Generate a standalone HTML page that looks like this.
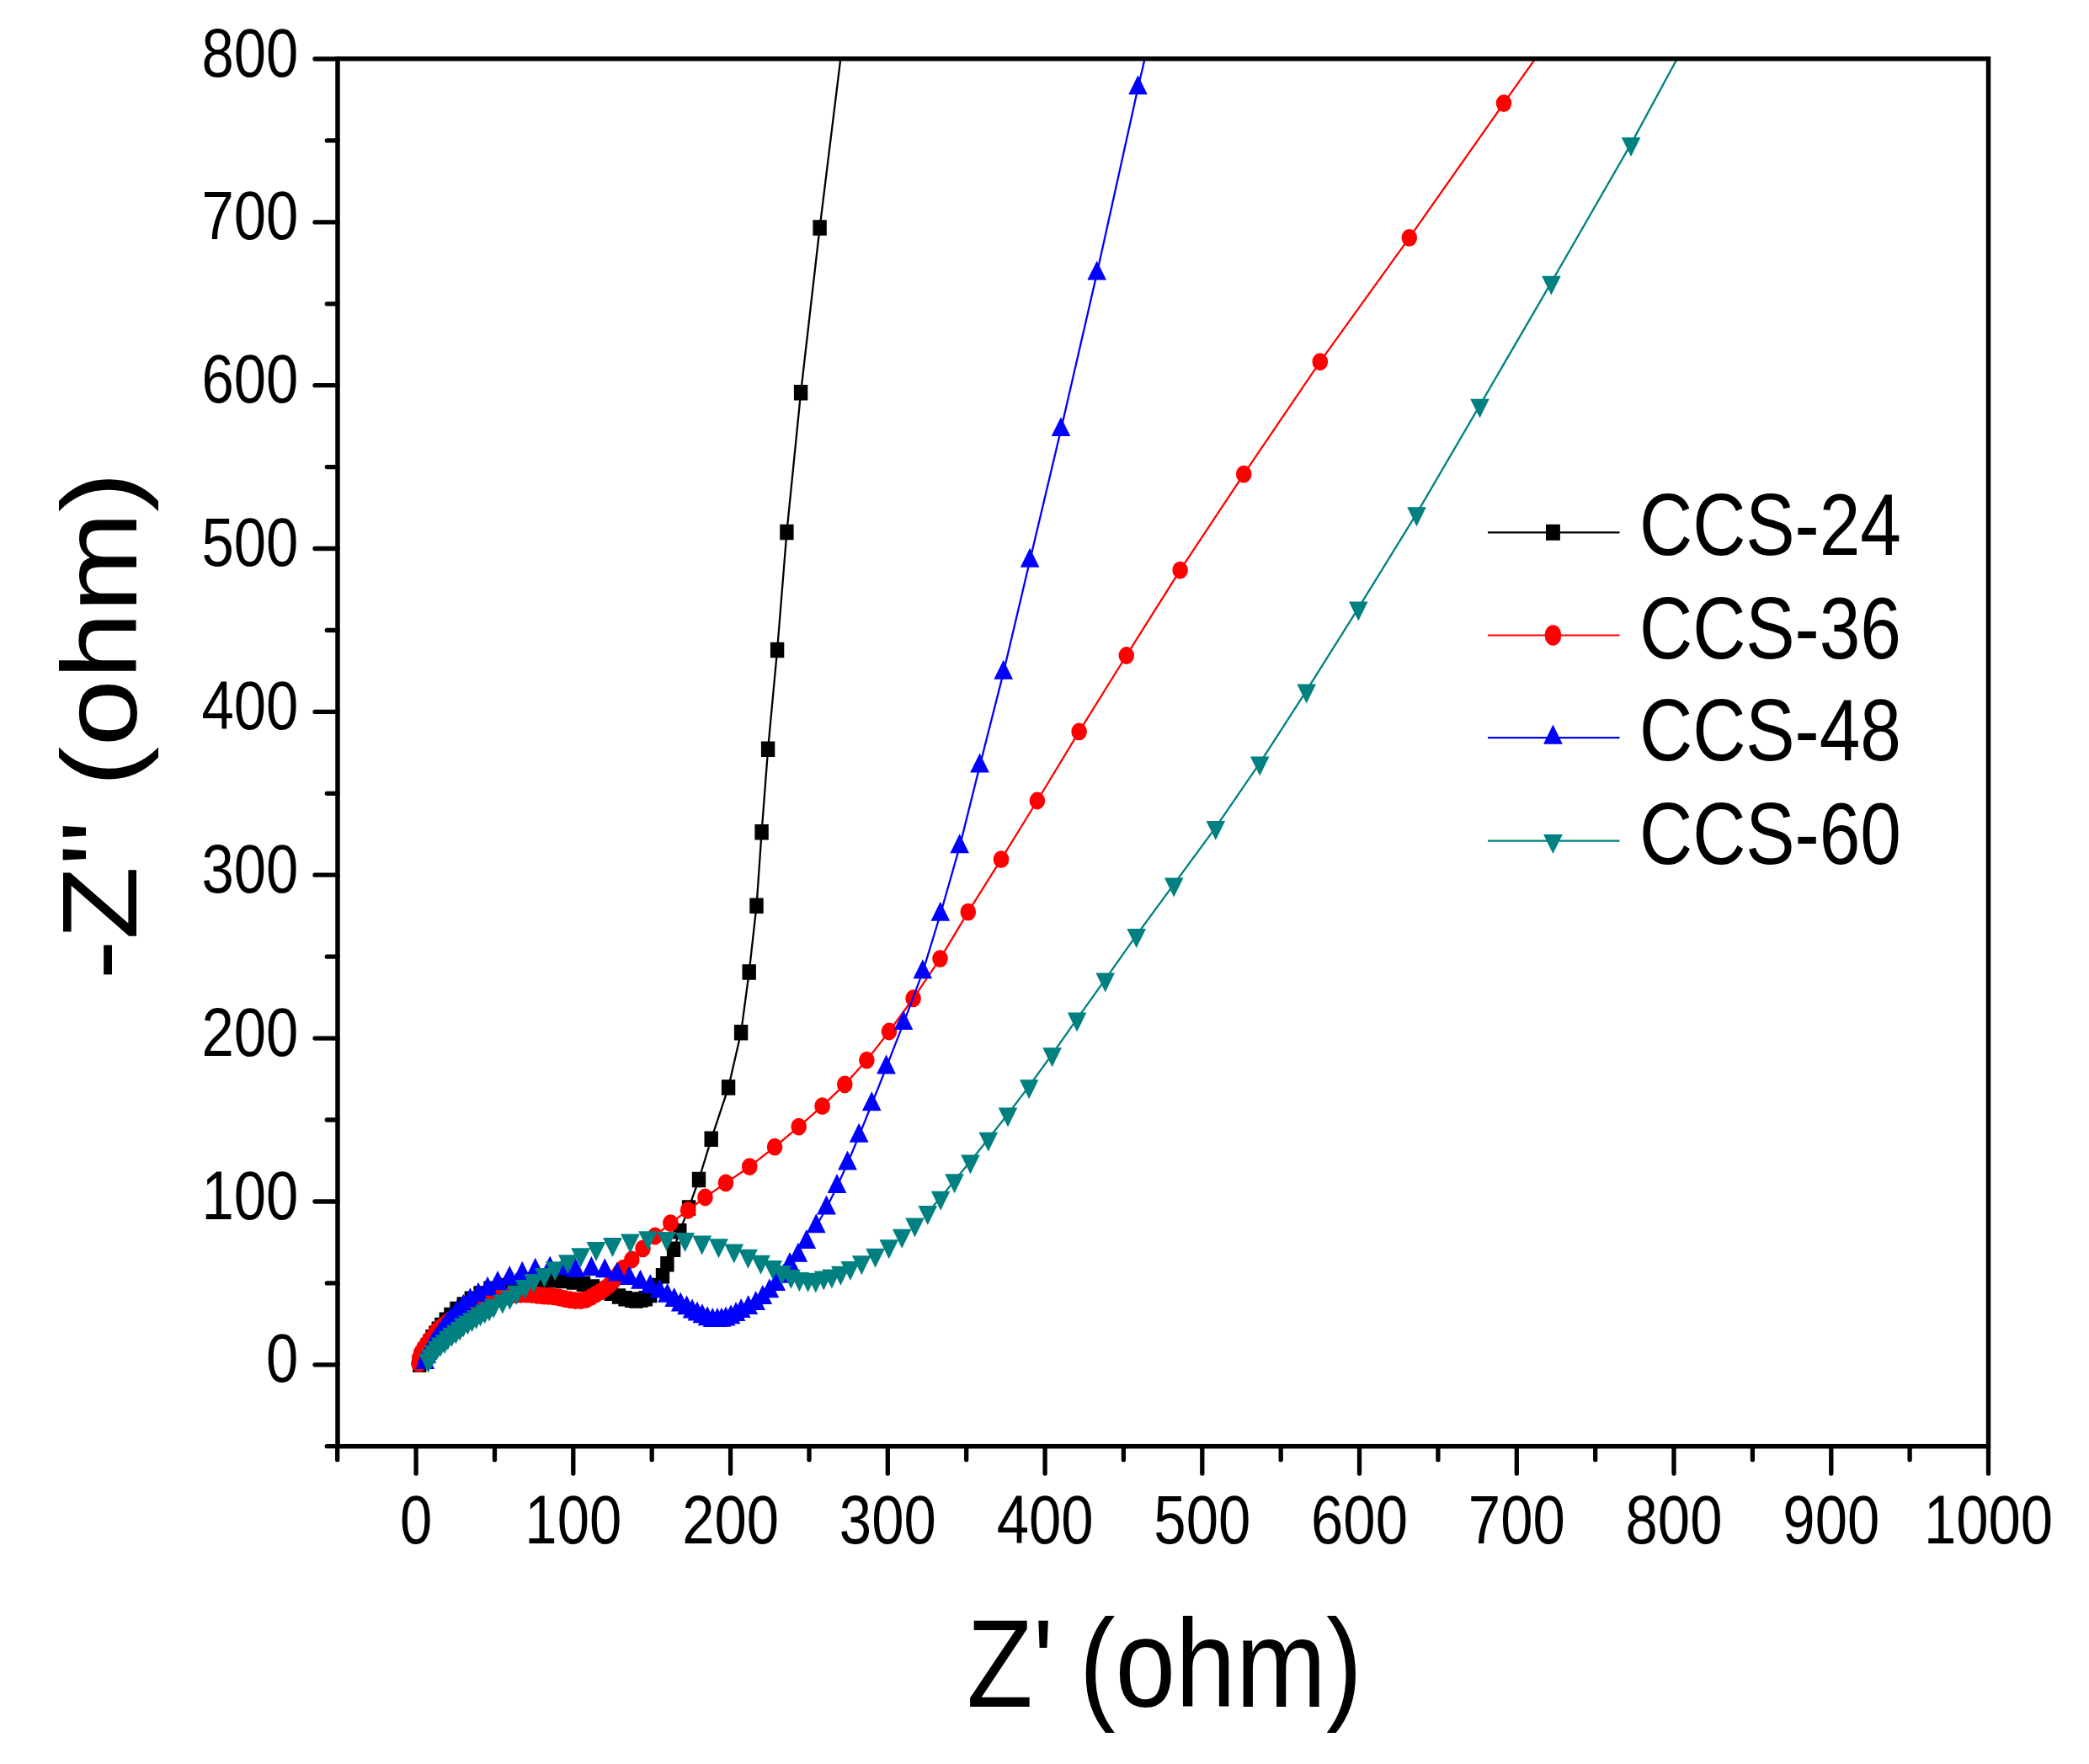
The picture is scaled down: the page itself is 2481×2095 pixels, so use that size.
<!DOCTYPE html><html><head><meta charset="utf-8"><title>Nyquist plot</title><style>html,body{margin:0;padding:0;background:#fff;}svg{display:block;}</style></head><body>
<svg width="2481" height="2095" viewBox="0 0 2481 2095">
<rect width="2481" height="2095" fill="#fff"/>
<defs><clipPath id="clip"><rect x="401" y="69.8" width="1960.5" height="1647.9"/></clipPath></defs>
<path d="M792.4 1501.3L800.1 1483.7M800.1 1483.7L807.3 1462.3M807.3 1462.3L818.1 1434.4M818.1 1434.4L830 1401M830 1401L844.7 1352.8M844.7 1352.8L865.1 1291.6M865.1 1291.6L880.1 1226.2M880.1 1226.2L889.7 1154.5M889.7 1154.5L898.5 1075.8M898.5 1075.8L904.6 988.4M904.6 988.4L912.1 889.8M912.1 889.8L923.1 772M923.1 772L934.4 632M934.4 632L951.1 466.2M951.1 466.2L973.6 270.5M973.6 270.5L1000.5 52" fill="none" stroke="#000000" stroke-width="2.3" clip-path="url(#clip)"/>
<path d="M490 1611.2h16.4v18.5h-16.4zM491.3 1605.4h16.4v18.5h-16.4zM493.1 1599.7h16.4v18.5h-16.4zM496.1 1594.5h16.4v18.5h-16.4zM499.4 1589.5h16.4v18.5h-16.4zM502.4 1584.3h16.4v18.5h-16.4zM505.4 1579.1h16.4v18.5h-16.4zM509.3 1574.5h16.4v18.5h-16.4zM512.6 1569.5h16.4v18.5h-16.4zM516.2 1564.7h16.4v18.5h-16.4zM521.6 1558.5h16.4v18.5h-16.4zM527.3 1552.7h16.4v18.5h-16.4zM534.3 1545.7h16.4v18.5h-16.4zM542.6 1540.2h16.4v18.5h-16.4zM551.6 1533.5h16.4v18.5h-16.4zM562.4 1527.3h16.4v18.5h-16.4zM574.3 1521.5h16.4v18.5h-16.4zM586.3 1517.8h16.4v18.5h-16.4zM598.8 1514.8h16.4v18.5h-16.4zM611.8 1512.5h16.4v18.5h-16.4zM623.8 1511.2h16.4v18.5h-16.4zM636.8 1510.8h16.4v18.5h-16.4zM648.8 1511h16.4v18.5h-16.4zM660.8 1511.8h16.4v18.5h-16.4zM672.8 1513.2h16.4v18.5h-16.4zM684.8 1515.5h16.4v18.5h-16.4zM695.8 1519.2h16.4v18.5h-16.4zM706.8 1522.8h16.4v18.5h-16.4zM717.6 1526.5h16.4v18.5h-16.4zM726.8 1530.3h16.4v18.5h-16.4zM734.4 1533h16.4v18.5h-16.4zM742.1 1534.5h16.4v18.5h-16.4zM747.4 1535.2h16.4v18.5h-16.4zM753.3 1534.2h16.4v18.5h-16.4zM758.6 1533h16.4v18.5h-16.4zM764 1528.8h16.4v18.5h-16.4zM770.8 1517.8h16.4v18.5h-16.4zM778.8 1506h16.4v18.5h-16.4zM784.2 1492h16.4v18.5h-16.4zM791.9 1474.5h16.4v18.5h-16.4zM799.1 1453h16.4v18.5h-16.4zM809.9 1425.2h16.4v18.5h-16.4zM821.8 1391.8h16.4v18.5h-16.4zM836.5 1343.5h16.4v18.5h-16.4zM856.9 1282.3h16.4v18.5h-16.4zM871.9 1217h16.4v18.5h-16.4zM881.5 1145.2h16.4v18.5h-16.4zM890.3 1066.5h16.4v18.5h-16.4zM896.4 979.1h16.4v18.5h-16.4zM903.9 880.5h16.4v18.5h-16.4zM914.9 762.8h16.4v18.5h-16.4zM926.2 622.8h16.4v18.5h-16.4zM942.9 456.9h16.4v18.5h-16.4zM965.4 261.2h16.4v18.5h-16.4z" fill="#000000"/>

<path d="M778 1468L796.4 1452.7M796.4 1452.7L817.1 1437.4M817.1 1437.4L837.5 1422M837.5 1422L862 1404.9M862 1404.9L890.2 1385.7M890.2 1385.7L920.1 1362.2M920.1 1362.2L948.7 1338.1M948.7 1338.1L976.6 1313.7M976.6 1313.7L1003.3 1287.9M1003.3 1287.9L1029.4 1259.1M1029.4 1259.1L1056 1225M1056 1225L1084.6 1185.8M1084.6 1185.8L1116.5 1138.6M1116.5 1138.6L1149.8 1083.2M1149.8 1083.2L1189 1020.6M1189 1020.6L1231.9 951M1231.9 951L1281.6 868.8M1281.6 868.8L1337.8 778.5M1337.8 778.5L1401.6 677.1M1401.6 677.1L1477.2 563.1M1477.2 563.1L1567.8 429.7M1567.8 429.7L1673.8 282.3M1673.8 282.3L1786 122.6M1786 122.6L1850 32" fill="none" stroke="#ff0000" stroke-width="2.3" clip-path="url(#clip)"/>
<path d="M488 1619.3a9.3 10.4 0 1 0 18.6 0a9.3 10.4 0 1 0 -18.6 0zM488.9 1612.9a9.3 10.4 0 1 0 18.6 0a9.3 10.4 0 1 0 -18.6 0zM491 1606.7a9.3 10.4 0 1 0 18.6 0a9.3 10.4 0 1 0 -18.6 0zM494.1 1601a9.3 10.4 0 1 0 18.6 0a9.3 10.4 0 1 0 -18.6 0zM498 1595.8a9.3 10.4 0 1 0 18.6 0a9.3 10.4 0 1 0 -18.6 0zM501.8 1590.6a9.3 10.4 0 1 0 18.6 0a9.3 10.4 0 1 0 -18.6 0zM505.9 1585.5a9.3 10.4 0 1 0 18.6 0a9.3 10.4 0 1 0 -18.6 0zM509.8 1580.3a9.3 10.4 0 1 0 18.6 0a9.3 10.4 0 1 0 -18.6 0zM514.6 1575.9a9.3 10.4 0 1 0 18.6 0a9.3 10.4 0 1 0 -18.6 0zM519.9 1572.3a9.3 10.4 0 1 0 18.6 0a9.3 10.4 0 1 0 -18.6 0zM524.8 1568a9.3 10.4 0 1 0 18.6 0a9.3 10.4 0 1 0 -18.6 0zM530.4 1564.7a9.3 10.4 0 1 0 18.6 0a9.3 10.4 0 1 0 -18.6 0zM536.3 1561.9a9.3 10.4 0 1 0 18.6 0a9.3 10.4 0 1 0 -18.6 0zM542.3 1559.6a9.3 10.4 0 1 0 18.6 0a9.3 10.4 0 1 0 -18.6 0zM548.2 1556.8a9.3 10.4 0 1 0 18.6 0a9.3 10.4 0 1 0 -18.6 0zM554 1553.8a9.3 10.4 0 1 0 18.6 0a9.3 10.4 0 1 0 -18.6 0zM560 1551.3a9.3 10.4 0 1 0 18.6 0a9.3 10.4 0 1 0 -18.6 0zM566 1548.8a9.3 10.4 0 1 0 18.6 0a9.3 10.4 0 1 0 -18.6 0zM571.9 1546.1a9.3 10.4 0 1 0 18.6 0a9.3 10.4 0 1 0 -18.6 0zM577.8 1543.5a9.3 10.4 0 1 0 18.6 0a9.3 10.4 0 1 0 -18.6 0zM584 1541.5a9.3 10.4 0 1 0 18.6 0a9.3 10.4 0 1 0 -18.6 0zM590.4 1540a9.3 10.4 0 1 0 18.6 0a9.3 10.4 0 1 0 -18.6 0zM596.7 1538.7a9.3 10.4 0 1 0 18.6 0a9.3 10.4 0 1 0 -18.6 0zM603.1 1537.6a9.3 10.4 0 1 0 18.6 0a9.3 10.4 0 1 0 -18.6 0zM609.6 1537.1a9.3 10.4 0 1 0 18.6 0a9.3 10.4 0 1 0 -18.6 0zM616.1 1537a9.3 10.4 0 1 0 18.6 0a9.3 10.4 0 1 0 -18.6 0zM622.6 1537.5a9.3 10.4 0 1 0 18.6 0a9.3 10.4 0 1 0 -18.6 0zM629 1538.3a9.3 10.4 0 1 0 18.6 0a9.3 10.4 0 1 0 -18.6 0zM635.5 1538.9a9.3 10.4 0 1 0 18.6 0a9.3 10.4 0 1 0 -18.6 0zM642 1539.3a9.3 10.4 0 1 0 18.6 0a9.3 10.4 0 1 0 -18.6 0zM648.5 1539.8a9.3 10.4 0 1 0 18.6 0a9.3 10.4 0 1 0 -18.6 0zM654.9 1541a9.3 10.4 0 1 0 18.6 0a9.3 10.4 0 1 0 -18.6 0zM661.2 1542.5a9.3 10.4 0 1 0 18.6 0a9.3 10.4 0 1 0 -18.6 0zM667.6 1543.7a9.3 10.4 0 1 0 18.6 0a9.3 10.4 0 1 0 -18.6 0zM674 1544.7a9.3 10.4 0 1 0 18.6 0a9.3 10.4 0 1 0 -18.6 0zM680.5 1544.6a9.3 10.4 0 1 0 18.6 0a9.3 10.4 0 1 0 -18.6 0zM686.8 1543.3a9.3 10.4 0 1 0 18.6 0a9.3 10.4 0 1 0 -18.6 0zM692.7 1540.5a9.3 10.4 0 1 0 18.6 0a9.3 10.4 0 1 0 -18.6 0zM698.2 1537.1a9.3 10.4 0 1 0 18.6 0a9.3 10.4 0 1 0 -18.6 0zM703.9 1533.8a9.3 10.4 0 1 0 18.6 0a9.3 10.4 0 1 0 -18.6 0zM709.3 1530.2a9.3 10.4 0 1 0 18.6 0a9.3 10.4 0 1 0 -18.6 0zM714.4 1526.2a9.3 10.4 0 1 0 18.6 0a9.3 10.4 0 1 0 -18.6 0zM718.7 1521.4a9.3 10.4 0 1 0 18.6 0a9.3 10.4 0 1 0 -18.6 0zM722.6 1516.2a9.3 10.4 0 1 0 18.6 0a9.3 10.4 0 1 0 -18.6 0zM726.8 1511.2a9.3 10.4 0 1 0 18.6 0a9.3 10.4 0 1 0 -18.6 0zM731 1506.3a9.3 10.4 0 1 0 18.6 0a9.3 10.4 0 1 0 -18.6 0zM741 1496a9.3 10.4 0 1 0 18.6 0a9.3 10.4 0 1 0 -18.6 0zM754.2 1482.8a9.3 10.4 0 1 0 18.6 0a9.3 10.4 0 1 0 -18.6 0zM768.7 1468a9.3 10.4 0 1 0 18.6 0a9.3 10.4 0 1 0 -18.6 0zM787.1 1452.7a9.3 10.4 0 1 0 18.6 0a9.3 10.4 0 1 0 -18.6 0zM807.8 1437.4a9.3 10.4 0 1 0 18.6 0a9.3 10.4 0 1 0 -18.6 0zM828.2 1422a9.3 10.4 0 1 0 18.6 0a9.3 10.4 0 1 0 -18.6 0zM852.7 1404.9a9.3 10.4 0 1 0 18.6 0a9.3 10.4 0 1 0 -18.6 0zM880.9 1385.7a9.3 10.4 0 1 0 18.6 0a9.3 10.4 0 1 0 -18.6 0zM910.8 1362.2a9.3 10.4 0 1 0 18.6 0a9.3 10.4 0 1 0 -18.6 0zM939.4 1338.1a9.3 10.4 0 1 0 18.6 0a9.3 10.4 0 1 0 -18.6 0zM967.3 1313.7a9.3 10.4 0 1 0 18.6 0a9.3 10.4 0 1 0 -18.6 0zM994 1287.9a9.3 10.4 0 1 0 18.6 0a9.3 10.4 0 1 0 -18.6 0zM1020.1 1259.1a9.3 10.4 0 1 0 18.6 0a9.3 10.4 0 1 0 -18.6 0zM1046.7 1225a9.3 10.4 0 1 0 18.6 0a9.3 10.4 0 1 0 -18.6 0zM1075.3 1185.8a9.3 10.4 0 1 0 18.6 0a9.3 10.4 0 1 0 -18.6 0zM1107.2 1138.6a9.3 10.4 0 1 0 18.6 0a9.3 10.4 0 1 0 -18.6 0zM1140.5 1083.2a9.3 10.4 0 1 0 18.6 0a9.3 10.4 0 1 0 -18.6 0zM1179.7 1020.6a9.3 10.4 0 1 0 18.6 0a9.3 10.4 0 1 0 -18.6 0zM1222.6 951a9.3 10.4 0 1 0 18.6 0a9.3 10.4 0 1 0 -18.6 0zM1272.3 868.8a9.3 10.4 0 1 0 18.6 0a9.3 10.4 0 1 0 -18.6 0zM1328.5 778.5a9.3 10.4 0 1 0 18.6 0a9.3 10.4 0 1 0 -18.6 0zM1392.3 677.1a9.3 10.4 0 1 0 18.6 0a9.3 10.4 0 1 0 -18.6 0zM1467.9 563.1a9.3 10.4 0 1 0 18.6 0a9.3 10.4 0 1 0 -18.6 0zM1558.5 429.7a9.3 10.4 0 1 0 18.6 0a9.3 10.4 0 1 0 -18.6 0zM1664.5 282.3a9.3 10.4 0 1 0 18.6 0a9.3 10.4 0 1 0 -18.6 0zM1776.7 122.6a9.3 10.4 0 1 0 18.6 0a9.3 10.4 0 1 0 -18.6 0z" fill="#ff0000"/>

<path d="M969.3 1456.5L981.5 1434.8M981.5 1434.8L994 1409.4M994 1409.4L1006.5 1381.8M1006.5 1381.8L1020.1 1349.1M1020.1 1349.1L1035.3 1311.5M1035.3 1311.5L1052.6 1267.7M1052.6 1267.7L1073.1 1215.2M1073.1 1215.2L1095.8 1154.6M1095.8 1154.6L1116.8 1086M1116.8 1086L1139.7 1005.6M1139.7 1005.6L1163.6 909.7M1163.6 909.7L1191.7 799.1M1191.7 799.1L1223.1 666.1M1223.1 666.1L1260 510.5M1260 510.5L1302.7 325M1302.7 325L1351.5 104.6M1351.5 104.6L1368 33.8" fill="none" stroke="#0000ff" stroke-width="2.3" clip-path="url(#clip)"/>
<path d="M504.9 1603.1L516.2 1626H493.5zM507 1595.9L518.3 1618.8H495.6zM510.1 1589.1L521.4 1612H498.7zM513.8 1582.6L525.1 1605.5H502.4zM517.8 1576.3L529.2 1599.2H506.5zM522 1570.1L533.4 1593H510.7zM526.4 1564L537.8 1586.9H515.1zM530.8 1557.9L542.1 1580.8H519.4zM535.5 1552L546.8 1574.9H524.1zM542.2 1544L553.6 1566.9H530.9zM550.3 1536.8L561.6 1559.7H538.9zM558.4 1529.3L569.8 1552.2H547zM568.1 1522.8L579.5 1545.7H556.8zM579.1 1515.8L590.5 1538.8H567.8zM591.1 1509L602.5 1532H579.8zM605.2 1503L616.6 1526H593.9zM620.2 1497.8L631.6 1520.8H608.9zM635.7 1493.8L647.1 1516.8H624.4zM653.2 1491.5L664.6 1514.5H641.9zM669 1491.5L680.4 1514.5H657.6zM683.6 1494L695 1517H672.2zM702.4 1492L713.8 1515H691zM718.3 1494.3L729.6 1517.2H706.9zM732.9 1498.5L744.2 1521.5H721.5zM747.4 1503.1L758.8 1526H736zM760.5 1507.8L771.9 1530.7H749.1zM772.3 1513L783.6 1536H760.9zM783.1 1518.5L794.5 1541.4H771.8zM792.6 1523.8L804 1546.8H781.2zM800.7 1529.1L812.1 1552H789.4zM808.3 1534.5L819.6 1557.5H796.9zM815.6 1538.3L827 1561.2H804.2zM822.1 1542.5L833.5 1565.5H810.8zM828 1545.5L839.4 1568.5H816.6zM834 1548.3L845.4 1571.2H822.6zM840.1 1551.3L851.5 1574.2H828.8zM846.3 1553L857.6 1575.9H834.9zM852 1553L863.4 1575.9H840.6zM857 1552.8L868.4 1575.7H845.6zM862 1551.5L873.4 1574.5H850.6zM868 1549.2L879.4 1572.2H856.6zM874 1546.1L885.4 1569H862.6zM880.2 1542.1L891.6 1565H868.9zM888.7 1538L900.1 1561H877.4zM897.6 1533L909 1555.9H886.2zM905.7 1526.1L917.1 1549H894.4zM913.9 1518.2L925.2 1541.2H902.5zM921.7 1510.1L933.1 1533H910.4zM930.7 1500.8L942.1 1523.8H919.4zM938 1487L949.4 1510H926.6zM947.9 1475.8L959.2 1498.7H936.5zM957.8 1460.1L969.1 1483H946.4zM969.3 1441.2L980.6 1464.2H957.9zM981.5 1419.5L992.9 1442.5H970.1zM994 1394.1L1005.4 1417H982.6zM1006.5 1366.5L1017.9 1389.5H995.1zM1020.1 1333.8L1031.5 1356.8H1008.8zM1035.3 1296.2L1046.6 1319.2H1023.9zM1052.6 1252.5L1063.9 1275.4H1041.2zM1073.1 1200L1084.4 1222.9H1061.8zM1095.8 1139.3L1107.1 1162.2H1084.5zM1116.8 1070.8L1128.1 1093.7H1105.5zM1139.7 990.3L1151 1013.2H1128.4zM1163.6 894.4L1174.9 917.4H1152.2zM1191.7 783.8L1203 806.8H1180.4zM1223.1 650.8L1234.4 673.8H1211.8zM1260 495.2L1271.3 518.1H1248.7zM1302.7 309.8L1314 332.6H1291.4zM1351.5 89.3L1362.8 112.2H1340.2z" fill="#0000ff"/>

<path d="M1101.8 1439.7L1117.1 1422.5M1117.1 1422.5L1133.6 1401.9M1133.6 1401.9L1152.5 1379.2M1152.5 1379.2L1173.8 1352.5M1173.8 1352.5L1197 1323.2M1197 1323.2L1222.2 1289.9M1222.2 1289.9L1249.6 1252M1249.6 1252L1279.1 1210.1M1279.1 1210.1L1312.7 1163.2M1312.7 1163.2L1349.7 1110.7M1349.7 1110.7L1394.2 1050.1M1394.2 1050.1L1443.8 982.6M1443.8 982.6L1496.2 906.2M1496.2 906.2L1551.7 820.2M1551.7 820.2L1613.3 722.1M1613.3 722.1L1682.5 609.9M1682.5 609.9L1757.5 481.4M1757.5 481.4L1842.4 335.4M1842.4 335.4L1937.1 170.9M1937.1 170.9L2010 36.2" fill="none" stroke="#008080" stroke-width="2.3" clip-path="url(#clip)"/>
<path d="M508.6 1630.5L520 1607.5H497.2zM511.8 1625.4L523.1 1602.5H500.4zM515.1 1620.4L526.4 1597.5H503.7zM518.7 1615.6L530.1 1592.7H507.4zM523.1 1611.5L534.4 1588.6H511.7zM528 1608.1L539.4 1585.2H516.7zM531.9 1603.5L543.3 1580.6H520.6zM536.5 1599.7L547.9 1576.8H525.2zM541.4 1596.3L552.8 1573.4H530.1zM546.1 1592.6L557.5 1569.7H534.8zM550.3 1588.3L561.7 1565.4H539zM555.5 1585.3L566.9 1562.4H544.2zM560.6 1582.1L571.9 1559.2H549.2zM565.6 1578.8L576.9 1555.9H554.2zM570.6 1575.4L581.9 1552.5H559.2zM575.7 1572.3L587 1549.4H564.3zM581 1569.5L592.3 1546.6H569.6zM586.3 1565.8L597.6 1542.8H574.9zM596.9 1560.5L608.2 1537.5H585.5zM605.5 1555.8L616.9 1532.8H594.1zM613.5 1549.7L624.9 1526.8H602.1zM623.3 1543L634.6 1520H611.9zM633.7 1536L645.1 1513H622.4zM646.5 1528.9L657.9 1506H635.1zM659.1 1521.2L670.5 1498.3H647.8zM674.4 1513.2L685.8 1490.3H663zM689.6 1505.2L701 1482.3H678.2zM708 1498L719.4 1475.1H696.6zM727.5 1493L738.9 1470.1H716.1zM748.5 1488.4L759.9 1465.5H737.1zM769.6 1485.2L781 1462.2H758.2zM791.6 1486L803 1463H780.2zM813.6 1487L825 1464H802.2zM833.7 1490.4L845.1 1467.5H822.4zM853.5 1494.2L864.9 1471.3H842.1zM871.8 1500.4L883.1 1477.5H860.4zM888.5 1506.8L899.9 1483.8H877.1zM903.5 1513.8L914.9 1490.8H892.1zM917.8 1519.9L929.1 1497H906.4zM928.6 1525.9L940 1503H917.2zM939.5 1530.8L950.9 1507.8H928.1zM949.4 1533.9L960.8 1511H938zM959.6 1534.7L971 1511.8H948.2zM968.8 1535.5L980.1 1512.5H957.4zM978.3 1532.5L989.6 1509.5H966.9zM987.9 1530.5L999.2 1507.5H976.5zM998.4 1526.7L1009.8 1503.8H987zM1009.9 1521L1021.2 1498H998.5zM1023.3 1514.2L1034.6 1491.3H1011.9zM1039.6 1505.7L1050.9 1482.8H1028.2zM1055.8 1495.2L1067.1 1472.2H1044.5zM1071.2 1482.8L1082.5 1459.8H1059.9zM1086.5 1469.4L1097.8 1446.5H1075.2zM1101.8 1455L1113.1 1432H1090.5zM1117.1 1437.8L1128.4 1414.8H1105.8zM1133.6 1417.2L1144.9 1394.2H1122.2zM1152.5 1394.5L1163.8 1371.5H1141.2zM1173.8 1367.8L1185.1 1344.8H1162.5zM1197 1338.5L1208.3 1315.5H1185.7zM1222.2 1305.2L1233.5 1282.2H1210.9zM1249.6 1267.2L1260.9 1244.3H1238.2zM1279.1 1225.4L1290.4 1202.5H1267.8zM1312.7 1178.5L1324 1155.5H1301.4zM1349.7 1126L1361 1103H1338.4zM1394.2 1065.4L1405.5 1042.5H1382.9zM1443.8 997.9L1455.1 974.9H1432.5zM1496.2 921.5L1507.5 898.5H1484.9zM1551.7 835.5L1563 812.5H1540.4zM1613.3 737.4L1624.6 714.4H1602zM1682.5 625.2L1693.8 602.2H1671.2zM1757.5 496.6L1768.8 473.8H1746.2zM1842.4 350.6L1853.8 327.8H1831.1zM1937.1 186.1L1948.4 163.2H1925.8z" fill="#008080"/>

<rect x="401" y="69.8" width="1960.5" height="1647.9" fill="none" stroke="#000" stroke-width="5.5"/>
<path d="M494.1 1717.7V1750M680.8 1717.7V1750M867.6 1717.7V1750M1054.3 1717.7V1750M1241.1 1717.7V1750M1427.8 1717.7V1750M1614.5 1717.7V1750M1801.3 1717.7V1750M1988 1717.7V1750M2174.8 1717.7V1750M2361.5 1717.7V1750M400.7 1717.7V1733.7M587.5 1717.7V1733.7M774.2 1717.7V1733.7M961 1717.7V1733.7M1147.7 1717.7V1733.7M1334.4 1717.7V1733.7M1521.2 1717.7V1733.7M1707.9 1717.7V1733.7M1894.7 1717.7V1733.7M2081.4 1717.7V1733.7M2268.1 1717.7V1733.7M401 1620.8H374M401 1427H374M401 1233.1H374M401 1039.2H374M401 845.4H374M401 651.5H374M401 457.7H374M401 263.9H374M401 70H374M401 1717.7H388.3M401 1523.9H388.3M401 1330H388.3M401 1136.2H388.3M401 942.3H388.3M401 748.5H388.3M401 554.6H388.3M401 360.8H388.3M401 166.9H388.3" stroke="#000" stroke-width="5.3" stroke-linecap="round" fill="none"/>
<text transform="translate(494.1 1833) scale(0.845 1)" text-anchor="middle" font-family="Liberation Sans, Arial, sans-serif" font-size="81.5">0</text>
<text transform="translate(680.8 1833) scale(0.845 1)" text-anchor="middle" font-family="Liberation Sans, Arial, sans-serif" font-size="81.5">100</text>
<text transform="translate(867.6 1833) scale(0.845 1)" text-anchor="middle" font-family="Liberation Sans, Arial, sans-serif" font-size="81.5">200</text>
<text transform="translate(1054.3 1833) scale(0.845 1)" text-anchor="middle" font-family="Liberation Sans, Arial, sans-serif" font-size="81.5">300</text>
<text transform="translate(1241.1 1833) scale(0.845 1)" text-anchor="middle" font-family="Liberation Sans, Arial, sans-serif" font-size="81.5">400</text>
<text transform="translate(1427.8 1833) scale(0.845 1)" text-anchor="middle" font-family="Liberation Sans, Arial, sans-serif" font-size="81.5">500</text>
<text transform="translate(1614.5 1833) scale(0.845 1)" text-anchor="middle" font-family="Liberation Sans, Arial, sans-serif" font-size="81.5">600</text>
<text transform="translate(1801.3 1833) scale(0.845 1)" text-anchor="middle" font-family="Liberation Sans, Arial, sans-serif" font-size="81.5">700</text>
<text transform="translate(1988 1833) scale(0.845 1)" text-anchor="middle" font-family="Liberation Sans, Arial, sans-serif" font-size="81.5">800</text>
<text transform="translate(2174.8 1833) scale(0.845 1)" text-anchor="middle" font-family="Liberation Sans, Arial, sans-serif" font-size="81.5">900</text>
<text transform="translate(2361.5 1833) scale(0.845 1)" text-anchor="middle" font-family="Liberation Sans, Arial, sans-serif" font-size="81.5">1000</text>
<text transform="translate(354.3 1641.3) scale(0.845 1)" text-anchor="end" font-family="Liberation Sans, Arial, sans-serif" font-size="81.5">0</text>
<text transform="translate(354.3 1447.5) scale(0.845 1)" text-anchor="end" font-family="Liberation Sans, Arial, sans-serif" font-size="81.5">100</text>
<text transform="translate(354.3 1253.6) scale(0.845 1)" text-anchor="end" font-family="Liberation Sans, Arial, sans-serif" font-size="81.5">200</text>
<text transform="translate(354.3 1059.8) scale(0.845 1)" text-anchor="end" font-family="Liberation Sans, Arial, sans-serif" font-size="81.5">300</text>
<text transform="translate(354.3 865.9) scale(0.845 1)" text-anchor="end" font-family="Liberation Sans, Arial, sans-serif" font-size="81.5">400</text>
<text transform="translate(354.3 672) scale(0.845 1)" text-anchor="end" font-family="Liberation Sans, Arial, sans-serif" font-size="81.5">500</text>
<text transform="translate(354.3 478.2) scale(0.845 1)" text-anchor="end" font-family="Liberation Sans, Arial, sans-serif" font-size="81.5">600</text>
<text transform="translate(354.3 284.4) scale(0.845 1)" text-anchor="end" font-family="Liberation Sans, Arial, sans-serif" font-size="81.5">700</text>
<text transform="translate(354.3 90.5) scale(0.845 1)" text-anchor="end" font-family="Liberation Sans, Arial, sans-serif" font-size="81.5">800</text>
<text transform="translate(1377.5 2027) scale(0.87 1)" text-anchor="middle" font-family="Liberation Sans, Arial, sans-serif" font-size="148"><tspan dx="6.3">Z'</tspan><tspan dx="-6.3"> (ohm)</tspan></text>
<text transform="translate(162 862) rotate(-90) scale(0.981 0.87)" text-anchor="middle" font-family="Liberation Sans, Arial, sans-serif" font-size="146">-Z'' (ohm)</text>
<path d="M1767 632.3H1923.5" stroke="#000000" stroke-width="2.2"/>
<path d="M1836 622.8h16.9v19h-16.9z" fill="#000000"/>
<text transform="translate(1947 659.3) scale(0.845 1)" font-family="Liberation Sans, Arial, sans-serif" font-size="103.5">CCS-24</text>
<path d="M1767 754.5H1923.5" stroke="#ff0000" stroke-width="2.2"/>
<path d="M1834.8 754.5a9.7 11.1 0 1 0 19.3 0a9.7 11.1 0 1 0 -19.3 0z" fill="#ff0000"/>
<text transform="translate(1947 781.5) scale(0.845 1)" font-family="Liberation Sans, Arial, sans-serif" font-size="103.5">CCS-36</text>
<path d="M1767 876.1H1923.5" stroke="#0000ff" stroke-width="2.2"/>
<path d="M1844.4 860.6L1855.8 883.8H1833.1z" fill="#0000ff"/>
<text transform="translate(1947 903.1) scale(0.845 1)" font-family="Liberation Sans, Arial, sans-serif" font-size="103.5">CCS-48</text>
<path d="M1767 998.6H1923.5" stroke="#008080" stroke-width="2.2"/>
<path d="M1844.4 1014.1L1855.8 990.9H1833.1z" fill="#008080"/>
<text transform="translate(1947 1025.6) scale(0.845 1)" font-family="Liberation Sans, Arial, sans-serif" font-size="103.5">CCS-60</text>
</svg></body></html>
